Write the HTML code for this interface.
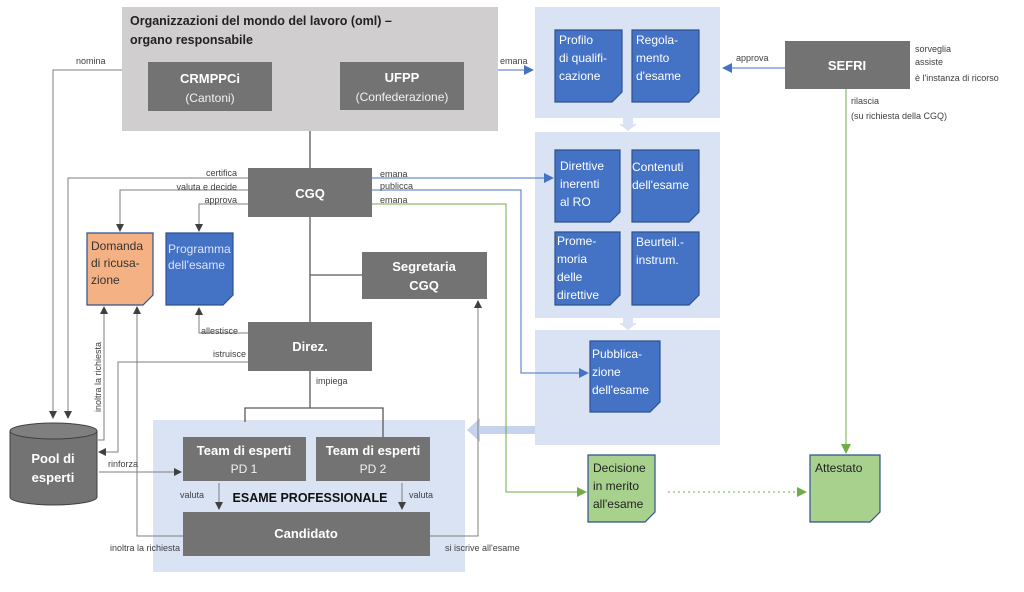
<!DOCTYPE html>
<html><head><meta charset="utf-8"><style>
body{margin:0;background:#fff}
svg{display:block;font-family:"Liberation Sans",sans-serif}
.w{fill:#fff;font-weight:bold;font-size:13px}
.wn{fill:#f2f2f2;font-size:12px}
.l{fill:#404040;font-size:9px}
.d{fill:#fff;font-size:12px}
</style></head><body>
<svg width="1024" height="592" viewBox="0 0 1024 592">
<defs>
<marker id="ag" markerWidth="8" markerHeight="8" refX="7" refY="4" orient="auto" markerUnits="userSpaceOnUse"><path d="M0,0L8,4L0,8z" fill="#404040"/></marker>
<marker id="ab" markerWidth="10" markerHeight="10" refX="9" refY="5" orient="auto" markerUnits="userSpaceOnUse"><path d="M0,0L10,5L0,10z" fill="#4472c4"/></marker>
<marker id="agr" markerWidth="10" markerHeight="10" refX="9" refY="5" orient="auto" markerUnits="userSpaceOnUse"><path d="M0,0L10,5L0,10z" fill="#70ad47"/></marker>
</defs>
<!-- panels -->
<rect x="122" y="7" width="376" height="124" fill="#d0cece"/>
<text x="130" y="25" font-size="12.5" font-weight="bold" fill="#222">Organizzazioni del mondo del lavoro (oml) –</text>
<text x="130" y="44" font-size="12.5" font-weight="bold" fill="#222">organo responsabile</text>
<rect x="148" y="62" width="124" height="49" fill="#737373"/>
<text x="210" y="83" class="w" text-anchor="middle">CRMPPCi</text>
<text x="210" y="102" class="wn" text-anchor="middle">(Cantoni)</text>
<rect x="340" y="62" width="124" height="48" fill="#737373"/>
<text x="402" y="82" class="w" text-anchor="middle">UFPP</text>
<text x="402" y="101" class="wn" text-anchor="middle">(Confederazione)</text>

<rect x="535" y="7" width="185" height="111" fill="#dae3f3"/>
<rect x="535" y="132" width="185" height="186" fill="#dae3f3"/>
<rect x="535" y="330" width="185" height="115" fill="#dae3f3"/>
<path d="M623,118h10v6h4l-9,7l-9,-7h4z" fill="#dae3f3"/>
<path d="M623,318h10v5h4l-9,7l-9,-7h4z" fill="#dae3f3"/>
<rect x="153" y="420" width="312" height="152" fill="#dae3f3"/>
<path d="M535,426h-55v-8l-13,12l13,12v-8h55z" fill="#c5d3ec"/>

<!-- connectors gray -->
<g stroke="#595959" stroke-width="1.3" fill="none">
<path d="M310,131V168M310,217V322M310,275H362M310,371V408M245,422V408H383V437"/>
</g>
<g stroke="#7f7f7f" stroke-width="1" fill="none">
<path d="M122,70H53V418" marker-end="url(#ag)"/>
<path d="M248,178H68V418" marker-end="url(#ag)"/>
<path d="M248,190H120V231" marker-end="url(#ag)"/>
<path d="M248,204H199V231" marker-end="url(#ag)"/>
<path d="M248,333H199V308" marker-end="url(#ag)"/>
<path d="M248,362H118V452H99" marker-end="url(#ag)"/>
<path d="M98,440H104V307" marker-end="url(#ag)"/>
<path d="M99,472H181" marker-end="url(#ag)"/>
<path d="M183,536H137V307" marker-end="url(#ag)"/>
<path d="M430,536H478V301" marker-end="url(#ag)"/>
<path d="M219,483V509" marker-end="url(#ag)"/>
<path d="M402,483V509" marker-end="url(#ag)"/>
</g>
<g stroke="#4472c4" stroke-width="1" fill="none">
<path d="M498,70H533" marker-end="url(#ab)"/>
<path d="M785,68H723" marker-end="url(#ab)"/>
<path d="M372,178H553" marker-end="url(#ab)"/>
<path d="M372,190H521V373H588" marker-end="url(#ab)"/>
</g>
<g stroke="#70ad47" stroke-width="1" fill="none">
<path d="M372,204H506V492H586" marker-end="url(#agr)"/>
<path d="M846,89V453" marker-end="url(#agr)"/>
<path d="M668,492H806" stroke-dasharray="2,3" marker-end="url(#agr)"/>
</g>

<!-- gray boxes -->
<rect x="248" y="168" width="124" height="49" fill="#737373"/>
<text x="310" y="198" class="w" text-anchor="middle">CGQ</text>
<rect x="362" y="252" width="125" height="47" fill="#737373"/>
<text x="424" y="271" class="w" text-anchor="middle">Segretaria</text>
<text x="424" y="290" class="w" text-anchor="middle">CGQ</text>
<rect x="248" y="322" width="124" height="49" fill="#737373"/>
<text x="310" y="351" class="w" text-anchor="middle">Direz.</text>
<rect x="183" y="437" width="123" height="44" fill="#737373"/>
<text x="244" y="455" class="w" text-anchor="middle">Team di esperti</text>
<text x="244" y="473" class="wn" text-anchor="middle">PD 1</text>
<rect x="316" y="437" width="114" height="44" fill="#737373"/>
<text x="373" y="455" class="w" text-anchor="middle">Team di esperti</text>
<text x="373" y="473" class="wn" text-anchor="middle">PD 2</text>
<text x="310" y="502" font-size="12.5" font-weight="bold" fill="#111" text-anchor="middle">ESAME PROFESSIONALE</text>
<rect x="183" y="512" width="247" height="44" fill="#737373"/>
<text x="306" y="538" class="w" text-anchor="middle">Candidato</text>
<rect x="785" y="41" width="125" height="48" fill="#737373"/>
<text x="847" y="70" class="w" text-anchor="middle">SEFRI</text>

<!-- cylinder -->
<path d="M10,431V497A43.5,8 0 0 0 97,497V431" fill="#737373" stroke="#404040"/>
<ellipse cx="53.5" cy="431" rx="43.5" ry="8" fill="#7f7f7f" stroke="#404040"/>
<text x="53" y="463" class="w" text-anchor="middle">Pool di</text>
<text x="53" y="482" class="w" text-anchor="middle">esperti</text>

<!-- documents -->
<g stroke="#2f528f" stroke-width="1.2">
<path d="M87,233H153V295L143,305H87z" fill="#f4b183"/>
<path d="M166,233H233V295L223,305H166z" fill="#4472c4"/>
<path d="M555,30H622V92L612,102H555z" fill="#4472c4"/>
<path d="M632,30H699V92L689,102H632z" fill="#4472c4"/>
<path d="M555,150H620V212L610,222H555z" fill="#4472c4"/>
<path d="M632,150H699V212L689,222H632z" fill="#4472c4"/>
<path d="M555,232H620V295L610,305H555z" fill="#4472c4"/>
<path d="M632,232H699V295L689,305H632z" fill="#4472c4"/>
<path d="M590,341H660V402L650,412H590z" fill="#4472c4"/>
<path d="M588,455H655V512L645,522H588z" fill="#a9d18e"/>
<path d="M810,455H880V512L870,522H810z" fill="#a9d18e"/>
</g>
<g font-size="12">
<text fill="#333"><tspan x="91" y="250">Domanda</tspan><tspan x="91" y="267">di ricusa-</tspan><tspan x="91" y="284">zione</tspan></text>
<text fill="#dbe4ff"><tspan x="168" y="253">Programma</tspan><tspan x="168" y="269">dell'esame</tspan></text>
<text class="d"><tspan x="559" y="44">Profilo</tspan><tspan x="559" y="62">di qualifi-</tspan><tspan x="559" y="80">cazione</tspan></text>
<text class="d"><tspan x="636" y="44">Regola-</tspan><tspan x="636" y="62">mento</tspan><tspan x="636" y="80">d'esame</tspan></text>
<text class="d"><tspan x="560" y="170">Direttive</tspan><tspan x="560" y="188">inerenti</tspan><tspan x="560" y="206">al RO</tspan></text>
<text class="d"><tspan x="632" y="171">Contenuti</tspan><tspan x="632" y="189">dell'esame</tspan></text>
<text class="d"><tspan x="557" y="245">Prome-</tspan><tspan x="557" y="263">moria</tspan><tspan x="557" y="281">delle</tspan><tspan x="557" y="299">direttive</tspan></text>
<text class="d"><tspan x="636" y="246">Beurteil.-</tspan><tspan x="636" y="264">instrum.</tspan></text>
<text class="d"><tspan x="592" y="358">Pubblica-</tspan><tspan x="592" y="376">zione</tspan><tspan x="592" y="394">dell'esame</tspan></text>
<text fill="#222"><tspan x="593" y="472">Decisione</tspan><tspan x="593" y="490">in merito</tspan><tspan x="593" y="508">all'esame</tspan></text>
<text fill="#222" x="815" y="472">Attestato</text>
</g>

<!-- labels -->
<text class="l" x="76" y="64">nomina</text>
<text class="l" x="500" y="64">emana</text>
<text class="l" x="736" y="61">approva</text>
<text class="l" x="915" y="52">sorveglia</text>
<text class="l" x="915" y="65">assiste</text>
<text class="l" x="915" y="81">è l'instanza di ricorso</text>
<text class="l" x="851" y="104">rilascia</text>
<text class="l" x="851" y="119">(su richiesta della CGQ)</text>
<text class="l" x="237" y="176" text-anchor="end">certifica</text>
<text class="l" x="237" y="190" text-anchor="end">valuta e decide</text>
<text class="l" x="237" y="203" text-anchor="end">approva</text>
<text class="l" x="380" y="177">emana</text>
<text class="l" x="380" y="189">publicca</text>
<text class="l" x="380" y="203">emana</text>
<text class="l" x="201" y="334">allestisce</text>
<text class="l" x="246" y="357" text-anchor="end">istruisce</text>
<text class="l" x="316" y="384">impiega</text>
<text class="l" x="108" y="467">rinforza</text>
<text class="l" x="180" y="498">valuta</text>
<text class="l" x="409" y="498">valuta</text>
<text class="l" x="180" y="551" text-anchor="end">inoltra la richiesta</text>
<text class="l" x="445" y="551">si iscrive all'esame</text>
<text class="l" transform="translate(101,412) rotate(-90)">inoltra la richiesta</text>
</svg>
</body></html>
